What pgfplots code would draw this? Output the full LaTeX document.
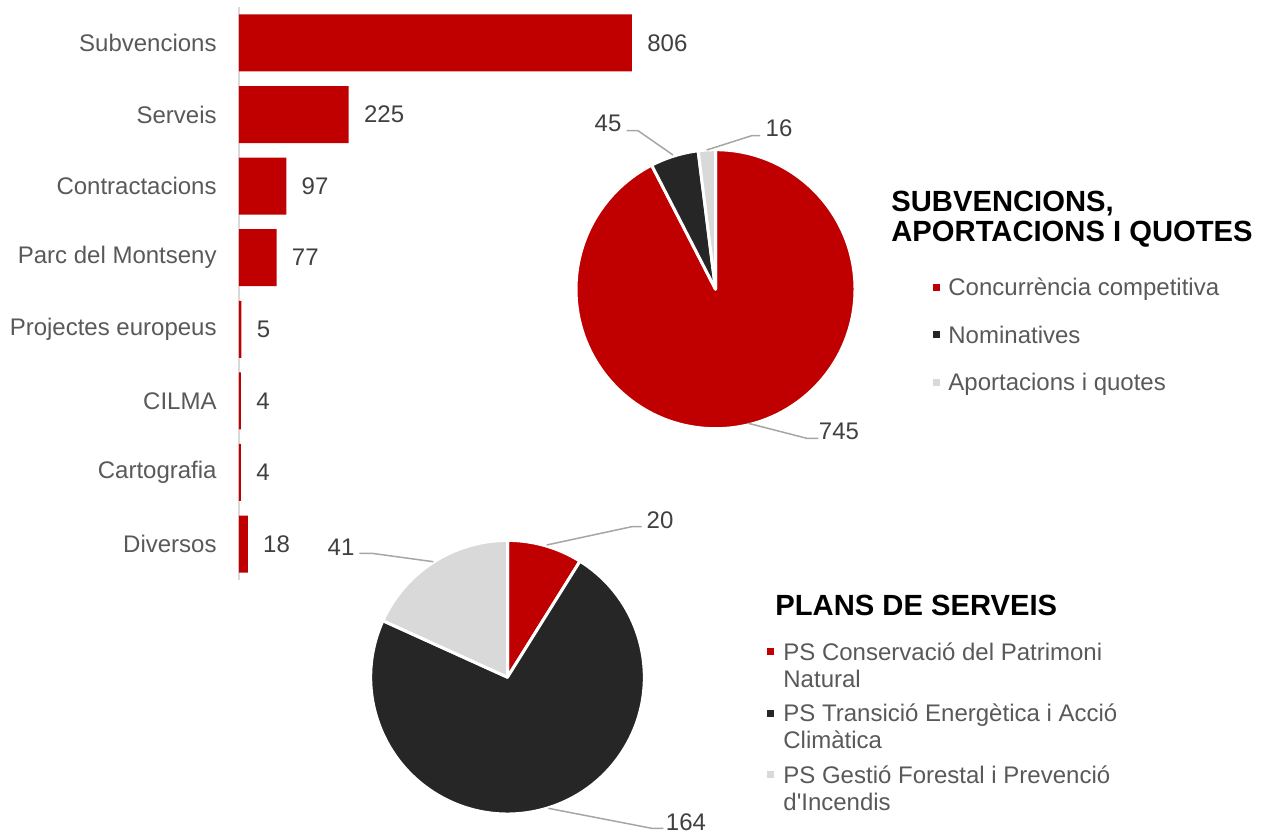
\documentclass[border=0pt]{standalone}
\usepackage{pgfplots}
\pgfplotsset{compat=1.18}
\usepackage{pgfplotstable}
\usepackage{fontspec}
\setmainfont{Liberation Sans}
\definecolor{cRed}{HTML}{C00000}
\definecolor{cDark}{HTML}{262626}
\definecolor{cLight}{HTML}{D9D9D9}
\definecolor{cLab}{HTML}{595959}
\definecolor{cVal}{HTML}{404040}
\definecolor{cLead}{HTML}{A6A6A6}
\newcommand\lab{\fontsize{12pt}{14pt}\selectfont}
\newcommand\ttl{\fontsize{14.6pt}{17pt}\selectfont\bfseries}

\pgfplotstableread{
idx value
0 806
1 225
2 97
3 77
4 5
5 4
6 4
7 18
}\bars

\begin{document}
\begin{tikzpicture}
\path[use as bounding box] (0,0) rectangle (636.5pt,-416.5pt);

% ---- bar chart ----
\begin{axis}[
  at={(119.5pt,-3.6pt)}, anchor=north west,
  scale only axis, width=196.5pt, height=286.3pt,
  xmin=0, xmax=806, ymin=-0.5, ymax=7.5, y dir=reverse,
  axis x line=none, axis y line*=left,
  axis line style={draw=cLight, line width=0.7pt, -},
  ytick={0,...,7},
  yticklabels={Subvencions,Serveis,Contractacions,Parc del Montseny,Projectes europeus,CILMA,Cartografia,Diversos},
  major tick length=0pt, ytick style={draw=none},
  yticklabel style={font=\lab, text=cLab, inner sep=0pt, xshift=-11pt},
  clip=false,
  /pgf/number format/assume math mode=true,
  nodes near coords,
  nodes near coords style={font=\lab, text=cVal, anchor=west, inner sep=0pt, xshift=7.5pt},
]
\addplot[xbar, fill=cRed, draw=none, bar width=28.5pt, point meta=x] table[x=value, y=idx] {\bars};
\end{axis}

% ---- pie 1 ----
\begin{axis}[at={(357.75pt,-144.6pt)}, anchor=center, hide axis, scale only axis,
  width=138pt, height=138pt, xmin=-1, xmax=1, ymin=-1, ymax=1, clip=false]
\xdef\cum{0}
\foreach \v/\c in {745/cRed,45/cDark,16/cLight}{
  \pgfmathsetmacro\a{90-\cum/806*360}
  \pgfmathsetmacro\b{90-(\cum+\v)/806*360}
  \edef\temp{\noexpand\fill[\c, draw=white, line width=1.5pt, line join=round] (axis cs:0,0) -- ([shift={(\a:69.75pt)}]axis cs:0,0) arc[start angle=\a, end angle=\b, radius=69.75pt] -- cycle;}
  \temp
  \pgfmathsetmacro\n{\cum+\v}\xdef\cum{\n}
}
\end{axis}

% ---- pie 2 ----
\begin{axis}[at={(253.75pt,-338.6pt)}, anchor=center, hide axis, scale only axis,
  width=136pt, height=136pt, xmin=-1, xmax=1, ymin=-1, ymax=1, clip=false]
\xdef\cum{0}
\foreach \v/\c in {20/cRed,164/cDark,41/cLight}{
  \pgfmathsetmacro\a{90-\cum/225*360}
  \pgfmathsetmacro\b{90-(\cum+\v)/225*360}
  \edef\temp{\noexpand\fill[\c, draw=white, line width=1.5pt, line join=round] (axis cs:0,0) -- ([shift={(\a:68.4pt)}]axis cs:0,0) arc[start angle=\a, end angle=\b, radius=68.4pt] -- cycle;}
  \temp
  \pgfmathsetmacro\n{\cum+\v}\xdef\cum{\n}
}
\end{axis}

% ---- labels, leaders, legends (pixel coordinates) ----
\begin{scope}[x=0.5pt, y=-0.5pt]
  \begin{scope}[draw=cLead, line width=0.75pt]
    \draw (626.7,130.7) -- (638,130.7) -- (673,155);
    \draw (760,135.7) -- (751.7,135.7) -- (706.7,150);
    \draw (818.3,438.3) -- (806.7,438.3) -- (748.3,423.3);
    \draw (641.7,526.7) -- (631.7,526.7) -- (546.7,545);
    \draw (359.3,553.3) -- (371.7,553.3) -- (433.3,561.7);
    \draw (663.3,828.3) -- (651.7,828.3) -- (548.3,808.3);
  \end{scope}
  \begin{scope}[every node/.style={font=\lab, text=cVal, anchor=base, inner sep=0pt}]
    \node at (608,132) {45};
    \node at (779,137) {16};
    \node at (839,440) {745};
    \node at (660,528) {20};
    \node at (341,555) {41};
    \node at (686,830) {164};
  \end{scope}
  % legend 1
  \node[font=\ttl, anchor=base west, inner sep=0pt] at (891,211.7) {SUBVENCIONS,};
  \node[font=\ttl, anchor=base west, inner sep=0pt] at (891,241.7) {APORTACIONS I QUOTES};
  \begin{scope}[every node/.style={font=\lab, text=cLab, anchor=base west, inner sep=0pt}]
    \fill[cRed] (932.5,284) rectangle (939.5,291);
    \node at (948,296) {Concurrència competitiva};
    \fill[cDark] (932.5,331.5) rectangle (939.5,338.5);
    \node at (948,343.5) {Nominatives};
    \fill[cLight] (932.5,379) rectangle (939.5,386);
    \node at (948,391) {Aportacions i quotes};
  % legend 2
    \node[font=\ttl, text=black] at (775,615) {PLANS DE SERVEIS};
    \fill[cRed] (766.5,648) rectangle (773.5,655);
    \node at (783,660) {PS Conservació del Patrimoni};
    \node at (783,687.5) {Natural};
    \fill[cDark] (766.5,709.6) rectangle (773.5,716.6);
    \node at (783,721.7) {PS Transició Energètica i Acció};
    \node at (783,748.5) {Climàtica};
    \fill[cLight] (766.5,771.2) rectangle (773.5,778.2);
    \node at (783,783.3) {PS Gestió Forestal i Prevenció};
    \node at (783,810) {d\textquotesingle Incendis};
  \end{scope}
\end{scope}
\end{tikzpicture}
\end{document}
